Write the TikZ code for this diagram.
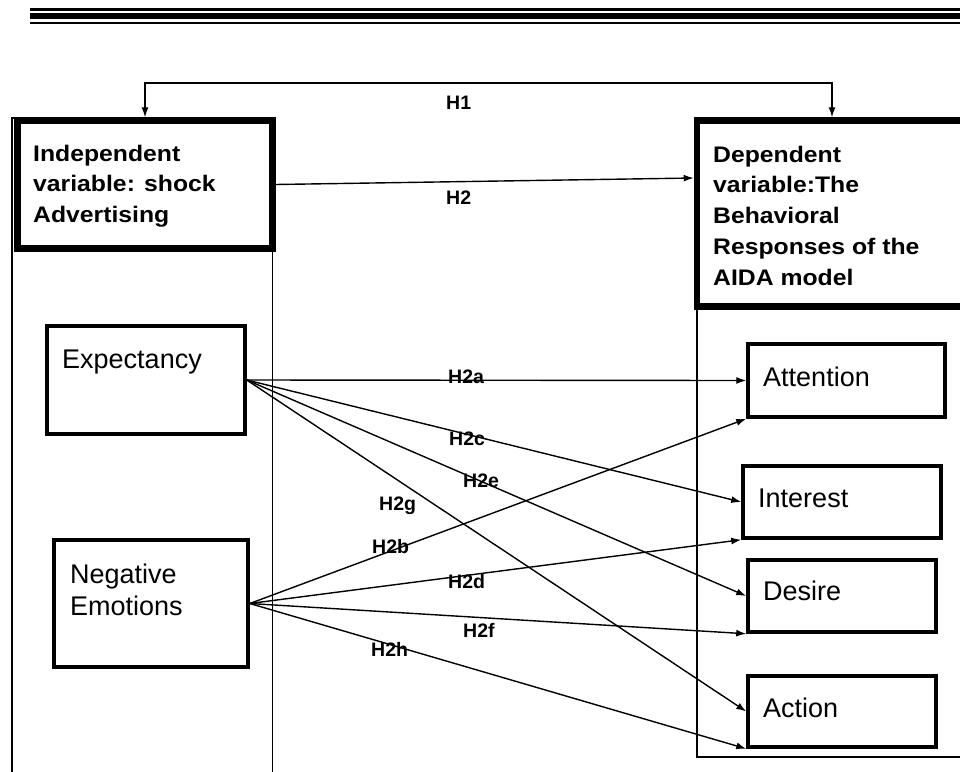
\documentclass[tikz,border=0pt]{standalone}
\usepackage{fontspec}
\setmainfont{Liberation Sans}
\newfontfamily\boxfont[FakeStretch=1.1]{Liberation Sans}
\usetikzlibrary{arrows.meta}
\begin{document}
\begin{tikzpicture}[x=1pt,y=-1pt,
  >={Latex[length=10pt,width=7pt]},
  thinline/.style={line width=1.2pt},
  arr/.style={line width=1.4pt,->},
  bigbox/.style={draw,line width=6.5pt,inner sep=0pt},
  smallbox/.style={draw,line width=3.5pt,inner sep=0pt},
  boxtxt/.style={inner sep=0pt,font=\boxfont\bfseries\fontsize{22.5}{30.8}\selectfont,anchor=base west},
  itemtxt/.style={inner sep=0pt,font=\fontsize{27}{32}\selectfont,anchor=base west},
  hlab/.style={inner sep=0pt,font=\bfseries\fontsize{19.5}{20}\selectfont,anchor=base west}
]
\useasboundingbox (0,0) rectangle (960,771);
\clip (0,0) rectangle (960,771);

% header rules
\draw[line width=2.4pt] (30,9.5) -- (960,9.5);
\draw[line width=5.5pt] (30,16) -- (960,16);
\draw[line width=2.4pt] (30,22.7) -- (960,22.7);

% column frames
\draw[thinline] (12,800) -- (12,118) -- (272.5,118) -- (272.5,800);
\draw[thinline] (697,118) -- (697,757) -- (1000,757);

% boxes
\node[bigbox,minimum width=255pt,minimum height=128pt] (ind) at (145,184.5) {};
\node[bigbox,minimum width=288pt,minimum height=186pt] (dep) at (841,213.5) {};
\node[smallbox,minimum width=198pt,minimum height=108pt] (exp) at (146,380) {};
\node[smallbox,minimum width=194pt,minimum height=127pt] (neg) at (151,603.5) {};
\node[smallbox,minimum width=197pt,minimum height=73pt] (att) at (846.5,380.5) {};
\node[smallbox,minimum width=198pt,minimum height=72pt] (int) at (842,502) {};
\node[smallbox,minimum width=188pt,minimum height=72pt] (des) at (842,596) {};
\node[smallbox,minimum width=188pt,minimum height=71pt] (act) at (842,711.5) {};

% texts
\node[boxtxt] (indt) at (33,161) {\begin{tabular}[t]{@{}l@{}}Independent\\variable: shock\\Advertising\end{tabular}};
\node[boxtxt] (dept) at (713,162) {\begin{tabular}[t]{@{}l@{}}Dependent\\variable:The\\Behavioral\\Responses of the\\AIDA model\end{tabular}};
\node[itemtxt] (expt) at (62,368) {Expectancy};
\node[itemtxt] (negt) at (70,583) {\begin{tabular}[t]{@{}l@{}}Negative\\Emotions\end{tabular}};
\node[itemtxt] (attt) at (763,386) {Attention};
\node[itemtxt] (intt) at (758,507) {Interest};
\node[itemtxt] (dest) at (763,600) {Desire};
\node[itemtxt] (actt) at (763,717) {Action};

% H1
\coordinate (h1l) at (145,83);
\coordinate (h1r) at (832,83);
\draw[line width=1.3pt,<->]
  (h1l |- ind.north) -- (h1l) -- (h1r) -- (h1r |- dep.north);

% H2
\draw[arr] (ind.east) -- ([yshift=35.5pt]dep.west);

% expectancy arrows
\draw[arr] (exp.east) -- (att.west);
\draw[arr] (exp.east) -- (int.west);
\draw[arr] (exp.east) -- (des.west);
\draw[arr] (exp.east) -- (act.west);

% negative emotions arrows
\draw[arr] (neg.east) -- (att.south west);
\draw[arr] (neg.east) -- (int.south west);
\draw[arr] (neg.east) -- (des.south west);
\draw[arr] (neg.east) -- (act.south west);

% labels
\node[hlab] (lh1) at (446,109) {H1};
\node[hlab] (lh2) at (446,204) {H2};
\node[hlab] (lh2a) at (448,383) {H2a};
\node[hlab] (lh2c) at (449,445) {H2c};
\node[hlab] (lh2e) at (463,487) {H2e};
\node[hlab] (lh2g) at (379,510) {H2g};
\node[hlab] (lh2b) at (372,553) {H2b};
\node[hlab] (lh2d) at (448,588) {H2d};
\node[hlab] (lh2f) at (463,637) {H2f};
\node[hlab] (lh2h) at (371,656) {H2h};
\end{tikzpicture}
\end{document}
